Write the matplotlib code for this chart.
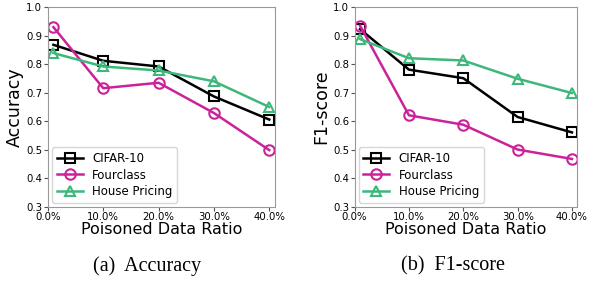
import matplotlib
matplotlib.use("Agg")
import matplotlib.pyplot as plt
from matplotlib.ticker import PercentFormatter

ratios = [0.01, 0.10, 0.20, 0.30, 0.40]
acc_cifar = [0.868, 0.812, 0.792, 0.687, 0.606]
acc_four = [0.930, 0.716, 0.735, 0.629, 0.499]
acc_house = [0.839, 0.792, 0.778, 0.740, 0.650]
f1_cifar = [0.923, 0.781, 0.751, 0.615, 0.561]
f1_four = [0.935, 0.621, 0.588, 0.501, 0.468]
f1_house = [0.888, 0.821, 0.813, 0.749, 0.699]
names = ["CIFAR-10", "Fourclass", "House Pricing"]
colors = ["black", "#CC2299", "#3DB87A"]
markers = ["s", "o", "^"]

fig = plt.figure(figsize=(5.91, 2.85), dpi=100)
ax1 = fig.add_axes([0.081, 0.274, 0.384, 0.701])
ax2 = fig.add_axes([0.600, 0.274, 0.377, 0.701])

panels = [(ax1, [acc_cifar, acc_four, acc_house], "Accuracy"),
          (ax2, [f1_cifar, f1_four, f1_house], "F1-score")]
for ax, series, ylab in panels:
    for vals, name, c, m in zip(series, names, colors, markers):
        ax.plot(ratios, vals, color=c, marker=m, label=name, lw=1.8,
                markersize=7.5, markerfacecolor="none", markeredgewidth=1.5)
    ax.set_xlim(0, 0.41)
    ax.set_ylim(0.3, 1.0)
    ax.set_xticks([0, 0.1, 0.2, 0.3, 0.4])
    ax.xaxis.set_major_formatter(PercentFormatter(1.0, decimals=1))
    ax.tick_params(labelsize=7.3, length=3, color="#555555", pad=1)
    for s in ax.spines.values():
        s.set_color("#999999")
    ax.set_xlabel("Poisoned Data Ratio", fontsize=11.5, labelpad=0)
    ax.set_ylabel(ylab, fontsize=12.5, labelpad=2)
    ax.legend(loc="lower left", fontsize=8.5, handlelength=2.2, borderpad=0.4,
              labelspacing=0.3, borderaxespad=0.35)

fig.text(0.248, 0.05, "(a)  Accuracy", ha="center", fontsize=14.5, family="Liberation Serif")
fig.text(0.767, 0.05, "(b)  F1-score", ha="center", fontsize=14.5, family="Liberation Serif")

plt.savefig("out.png", dpi=100)
